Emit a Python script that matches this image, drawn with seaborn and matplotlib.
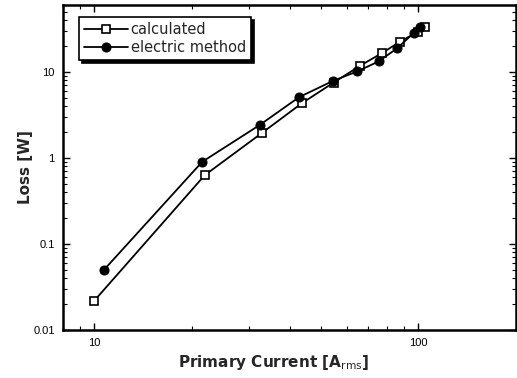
import matplotlib
matplotlib.use("Agg")
import matplotlib.pyplot as plt
import matplotlib.ticker as mticker
import seaborn as sns
import pandas as pd

# Data
calc_current = [10.0, 21.9, 33.0, 43.7, 54.7, 66.1, 77.1, 87.8, 100.0, 104.8]
calc_loss = [0.022, 0.63, 1.97, 4.33, 7.5, 11.8, 16.5, 22.5, 29.4, 33.0]
elec_current = [10.7, 21.5, 32.4, 42.8, 54.5, 64.6, 75.3, 86.1, 96.6, 101.0]
elec_loss = [0.05, 0.9, 2.42, 5.08, 7.86, 10.1, 13.2, 18.9, 28.2, 33.0]

x_ticks = [10, 100]
x_tick_labels = ["10", "100"]
y_ticks = [0.01, 0.1, 1, 10]
y_tick_labels = ["0.01", "0.1", "1", "10"]

sns.set_theme(style="ticks")
plt.rcParams["font.family"] = ["Liberation Sans", "DejaVu Sans"]

fig = plt.figure(figsize=(5.17, 3.78), dpi=100)
ax = fig.add_axes([0.122, 0.127, 0.876, 0.86])

calc_df = pd.DataFrame({"current": calc_current, "loss": calc_loss})
elec_df = pd.DataFrame({"current": elec_current, "loss": elec_loss})

sns.lineplot(data=calc_df, x="current", y="loss", ax=ax, sort=False, estimator=None,
             color="black", linewidth=1.3, marker="s", markersize=6,
             markerfacecolor="white", markeredgecolor="black", markeredgewidth=1.2,
             label="calculated")
sns.lineplot(data=elec_df, x="current", y="loss", ax=ax, sort=False, estimator=None,
             color="black", linewidth=1.3, marker="o", markersize=6.5,
             markerfacecolor="black", markeredgecolor="black",
             label="electric method")

ax.set_xscale("log")
ax.set_yscale("log")
ax.set_xlim(8, 200)
ax.set_ylim(0.01, 60)

ax.set_xticks(x_ticks)
ax.set_xticklabels(x_tick_labels)
ax.set_yticks(y_ticks)
ax.set_yticklabels(y_tick_labels)
ax.xaxis.set_minor_locator(mticker.LogLocator(base=10, subs=range(2, 10)))
ax.yaxis.set_minor_locator(mticker.LogLocator(base=10, subs=range(2, 10)))
ax.xaxis.set_minor_formatter(mticker.NullFormatter())
ax.yaxis.set_minor_formatter(mticker.NullFormatter())

ax.tick_params(which="both", direction="in", top=True, right=True, colors="black",
               labelsize=8)
ax.tick_params(which="major", length=5, width=1.0, pad=6)
ax.tick_params(which="minor", length=3, width=0.8)

for sp in ax.spines.values():
    sp.set_visible(True)
    sp.set_linewidth(1.8)
    sp.set_color("black")

ax.set_xlabel(r"Primary Current [A$_{\mathrm{rms}}$]", fontsize=11, fontweight="bold",
              family="DejaVu Sans")
ax.set_ylabel("Loss [W]", fontsize=11, fontweight="bold", family="DejaVu Sans")
ax.xaxis.set_label_coords(0.465, -0.072)
ax.yaxis.set_label_coords(-0.066, 0.5)

leg = ax.legend(loc="upper left", bbox_to_anchor=(0.035, 0.963), borderaxespad=0,
                prop={"family": "DejaVu Sans", "size": 10.5},
                frameon=True, fancybox=False,
                shadow={"color": "black", "alpha": 1}, handlelength=3.0,
                handletextpad=0.2, borderpad=0.35, labelspacing=0.2)
leg.get_frame().set_edgecolor("black")
leg.get_frame().set_linewidth(1.2)
leg.get_frame().set_alpha(1)

fig.savefig("out.png", dpi=100)
